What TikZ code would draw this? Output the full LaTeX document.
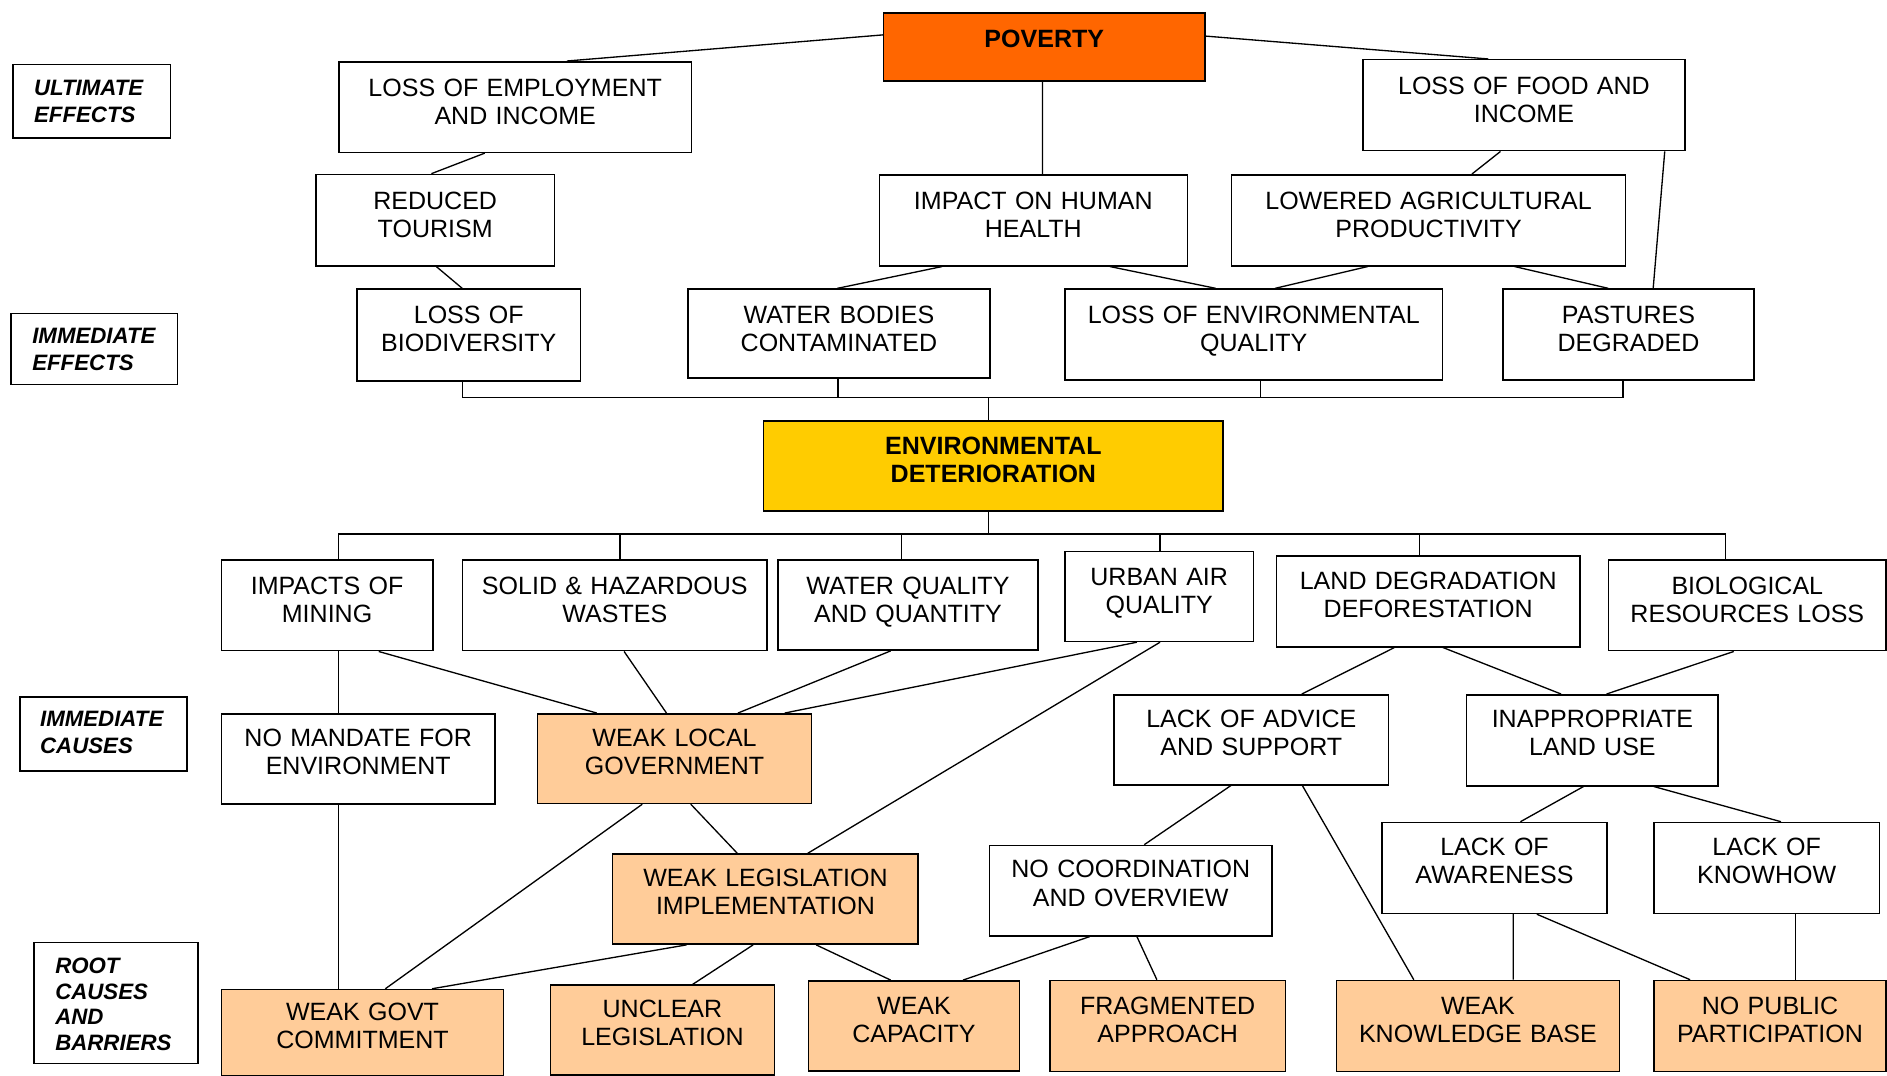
\documentclass[tikz,border=0pt]{standalone}
\usepackage{fontspec}
\setmainfont{Liberation Sans}
\usetikzlibrary{calc}
\definecolor{povc}{HTML}{FF6600}
\definecolor{envc}{HTML}{FFCC00}
\definecolor{peach}{HTML}{FFCC99}
% \bx[style]{name}{x1}{y1}{x2}{y2}{first baseline offset}{text}
\newcommand\bx[8][]{%
  \pgfmathsetmacro\bxw{#5-#3}%
  \pgfmathsetmacro\bxd{#6-#4-#7}%
  \node[box,#1,text width=\bxw pt,text height=#7pt,text depth=\bxd pt] (#2) at (#3,#4) {#8};%
}
\newcommand\cn[4]{\draw[ln] ($(#1.south west)+(#2,0)$) -- ($(#3.north west)+(#4,0)$);}
\newcommand\ind[1]{\hspace*{#1pt}}
\begin{document}
\begin{tikzpicture}[x=1pt,y=-1pt,
  box/.style={draw,line width=1.25pt,inner sep=0pt,anchor=north west,align=center,fill=white,
    font=\fontsize{20.8}{23.4}\selectfont},
  lbl/.style={align=left,font=\fontsize{18.5}{22.4}\selectfont\bfseries\itshape},
  hot/.style={fill=povc,font=\fontsize{20.8}{23.4}\selectfont\bfseries},
  env/.style={fill=envc,font=\fontsize{20.8}{23.6}\selectfont\bfseries},
  pe/.style={fill=peach},
  ln/.style={line width=1.1pt}]
\useasboundingbox (0,0) rectangle (1568,894);
% level labels
\bx[lbl]{lue}{10}{53}{141}{114}{25.4}{\ind{17.7}ULTIMATE\\\ind{17.7}EFFECTS}
\bx[lbl]{lie}{8.6}{259.8}{147}{319}{24.9}{\ind{17.6}IMMEDIATE\\\ind{17.6}EFFECTS}
\bx[lbl]{lic}{16.1}{578.4}{154.6}{639.9}{24.9}{\ind{16.6}IMMEDIATE\\\ind{16.6}CAUSES}
\bx[lbl,font=\fontsize{18.5}{21.5}\selectfont\bfseries\itshape]{lrc}{27.7}{782.5}{164.1}{883}{25.5}{\ind{17.6}ROOT\\\ind{17.6}CAUSES\\\ind{17.6}AND\\\ind{17.6}BARRIERS}
% effects
\bx[hot]{pov}{733.6}{10.2}{1000.6}{66.5}{28.6}{POVERTY}
\bx{emp}{280.9}{50.7}{574}{126}{28.8}{LOSS OF EMPLOYMENT\\AND INCOME}
\bx{food}{1132}{49}{1399.4}{124.6}{28.6}{LOSS OF FOOD AND\\INCOME}
\bx{tour}{261.8}{144.3}{460.2}{220.2}{28.8}{REDUCED\\TOURISM}
\bx{health}{730}{144.6}{986}{220.2}{28.5}{IMPACT ON HUMAN\\HEALTH}
\bx{agri}{1022.8}{144.6}{1350}{220.2}{28.5}{LOWERED AGRICULTURAL\\PRODUCTIVITY}
\bx{bio}{296}{239.6}{481.8}{315.8}{28.3}{LOSS OF\\BIODIVERSITY}
\bx{water}{571}{239.6}{822}{313.3}{28.3}{WATER BODIES\\CONTAMINATED}
\bx{envq}{884.3}{239.6}{1198}{315.2}{28.3}{LOSS OF ENVIRONMENTAL\\QUALITY}
\bx{past}{1248.3}{239.6}{1456.8}{315.2}{28.3}{PASTURES\\DEGRADED}
\bx[env]{envdet}{633.9}{349}{1015.7}{423.8}{27.7}{ENVIRONMENTAL\\DETERIORATION}
% causes
\bx{mining}{183.3}{464.8}{359}{540.1}{28.3}{IMPACTS OF\\MINING}
\bx{solid}{383.6}{464.8}{636.9}{540.1}{28.3}{SOLID \& HAZARDOUS\\WASTES}
\bx{wq}{646}{464.8}{861.7}{539.6}{28.3}{WATER QUALITY\\AND QUANTITY}
\bx{air}{884.3}{457.6}{1040.9}{532.4}{28.5}{URBAN AIR\\QUALITY}
\bx{land}{1060}{461.2}{1312.3}{536.8}{28}{LAND DEGRADATION\\DEFORESTATION}
\bx{biol}{1336}{464.8}{1566.6}{540.1}{28.3}{BIOLOGICAL\\RESOURCES LOSS}
\bx{mandate}{183.3}{592.8}{410.8}{667.5}{27.1}{NO MANDATE FOR\\ENVIRONMENT}
\bx[pe]{wlg}{446.1}{592.5}{673.7}{667}{27.4}{WEAK LOCAL\\GOVERNMENT}
\bx{advice}{925.1}{576.7}{1153.2}{651.5}{27.2}{LACK OF ADVICE\\AND SUPPORT}
\bx{inapp}{1218.1}{576.7}{1427}{652.3}{27.2}{INAPPROPRIATE\\LAND USE}
\bx[pe]{wli}{508.5}{709.1}{762.3}{783.9}{27.1}{WEAK LEGISLATION\\IMPLEMENTATION}
\bx{coord}{821.4}{701.9}{1056.5}{777}{27}{NO COORDINATION\\AND OVERVIEW}
\bx{aware}{1147.6}{682.8}{1334.9}{758.4}{27.7}{LACK OF\\AWARENESS}
\bx{know}{1373.7}{682.8}{1561}{758.4}{27.7}{LACK OF\\KNOWHOW}
% root causes
\bx[pe]{govt}{183.3}{821.6}{417.9}{893.3}{26}{WEAK GOVT\\COMMITMENT}
\bx[pe]{unclear}{456.7}{818}{643}{892.7}{26.8}{UNCLEAR\\LEGISLATION}
\bx[pe]{cap}{671.1}{814.4}{846.6}{889.1}{27.7}{WEAK\\CAPACITY}
\bx[pe]{frag}{871.7}{814.1}{1067.6}{889.7}{28}{FRAGMENTED\\APPROACH}
\bx[pe]{kb}{1109.9}{814.1}{1345}{889.7}{28}{WEAK\\KNOWLEDGE BASE}
\bx[pe]{pub}{1373.7}{814.1}{1566.6}{889.7}{28}{NO PUBLIC\\PARTICIPATION}
% connectors: top part
\draw[ln] ($(pov.north west)+(0,18.8)$) -- ($(emp.north west)+(190.1,0)$);
\draw[ln] ($(pov.north east)+(0,19.8)$) -- ($(food.north west)+(104.7,0)$);
\cn{pov}{132.6}{health}{136.2}
\cn{emp}{121.9}{tour}{96.7}
\cn{tour}{100.7}{bio}{88.1}
\cn{health}{53}{water}{124.8}
\cn{health}{192.1}{envq}{125.9}
\cn{agri}{113.8}{envq}{175.2}
\cn{agri}{235.6}{past}{88.1}
\cn{food}{114.8}{agri}{200.3}
\cn{food}{251.3}{past}{125.4}
% bus above environmental deterioration
\coordinate (b1) at ($(envdet.north west)+(187.5,-18.6)$);
\draw[ln] ($(bio.south west)+(88.1,0)$) |- (b1);
\draw[ln] ($(past.south west)+(100.2,0)$) |- (b1);
\draw[ln] ($(water.south west)+(125.3,0)$) coordinate (t1) -- (t1 |- b1);
\draw[ln] ($(envq.south west)+(163.1,0)$) coordinate (t2) -- (t2 |- b1);
\draw[ln] (b1) -- ($(envdet.north west)+(187.5,0)$);
% bus below environmental deterioration
\coordinate (b2) at ($(envdet.south west)+(187.5,18.6)$);
\draw[ln] ($(envdet.south west)+(187.5,0)$) -- (b2);
\draw[ln] ($(mining.north west)+(98.1,0)$) |- (b2);
\draw[ln] ($(biol.north west)+(97.6,0)$) |- (b2);
\draw[ln] ($(solid.north west)+(131.5,0)$) coordinate (t3) -- (t3 |- b2);
\draw[ln] ($(wq.north west)+(103.2,0)$) coordinate (t4) -- (t4 |- b2);
\draw[ln] ($(air.north west)+(79.6,0)$) coordinate (t5) -- (t5 |- b2);
\draw[ln] ($(land.north west)+(119.3,0)$) coordinate (t6) -- (t6 |- b2);
% lower connectors
\cn{mining}{131.4}{wlg}{49.8}
\cn{solid}{135}{wlg}{107.7}
\cn{wq}{94.1}{wlg}{167.1}
\cn{air}{60.4}{wlg}{205.9}
\cn{air}{79.6}{wli}{162.6}
\cn{mining}{98.1}{mandate}{98.1}
\cn{mandate}{98.1}{govt}{98.1}
\cn{wlg}{87.6}{govt}{136.9}
\cn{wlg}{127.9}{wli}{104.2}
\cn{wli}{61.9}{govt}{175.7}
\cn{wli}{117.3}{unclear}{118.8}
\cn{wli}{169.7}{cap}{69}
\cn{land}{98.7}{advice}{156.6}
\cn{land}{139}{inapp}{79.1}
\cn{biol}{104.7}{inapp}{116.8}
\cn{advice}{97.7}{coord}{129.4}
\cn{advice}{157.1}{kb}{64.9}
\cn{inapp}{97.7}{aware}{115.8}
\cn{inapp}{156.1}{know}{106.2}
\cn{coord}{84.1}{cap}{129.1}
\cn{coord}{123.3}{frag}{89.6}
\cn{aware}{109.8}{kb}{147.5}
\cn{aware}{129.4}{pub}{30.7}
\cn{know}{118.3}{pub}{118.3}
\end{tikzpicture}
\end{document}
